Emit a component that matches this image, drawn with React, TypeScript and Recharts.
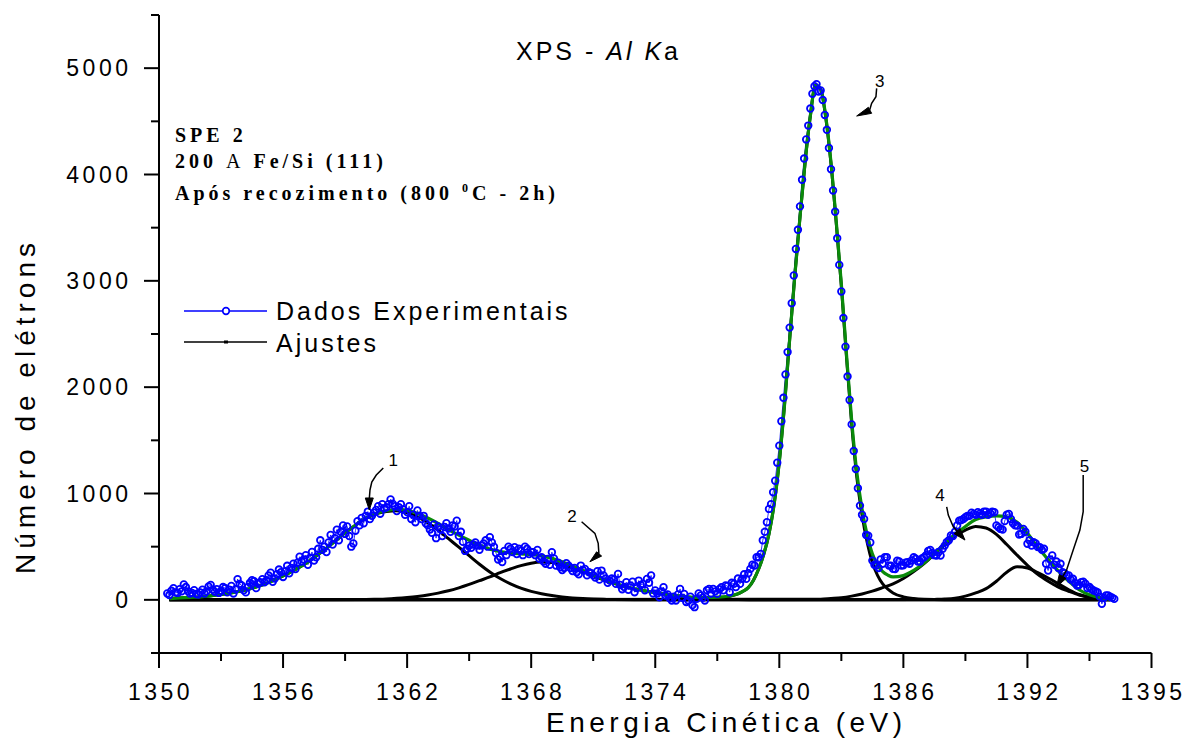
import React from "react";
import { LineChart, Line, XAxis, YAxis, ReferenceDot } from "recharts";

const W = 1185;
const H = 738;
const SANS = '"Liberation Sans", Arial, Helvetica, sans-serif';
const SERIF = '"Liberation Serif", "Times New Roman", Times, serif';

// axis ticks (the last major tick is printed "1395" in the original figure)
const xMajor = [1350, 1356, 1362, 1368, 1374, 1380, 1386, 1392, 1398];
const xMajorLabels = ["1350", "1356", "1362", "1368", "1374", "1380", "1386", "1392", "1395"];
const xMinor = [1353, 1359, 1365, 1371, 1377, 1383, 1389, 1395];
const yMajor = [0, 1000, 2000, 3000, 4000, 5000];
const yMinor = [-500, 500, 1500, 2500, 3500, 4500, 5500];

// experimental counts at 1350.4, 1350.6, ... eV (0.2 eV apart)
const EVEN_START = 1350.4;
const STEP = 0.2;
const expCountsEven = [
  60, 85, 70,
  100, 145, 80, 65, 55,
  70, 60, 125, 95, 100,
  85, 110, 95, 60, 195,
  135, 70, 160, 175, 150,
  195, 185, 255, 200, 285,
  215, 320, 300, 290, 405,
  380, 330, 450, 400, 560,
  500, 540, 520, 660, 640,
  620, 600, 530, 740, 770,
  790, 760, 820, 880, 900,
  870, 945, 880, 870, 850,
  825, 760, 730, 790, 790,
  700, 630, 580, 665, 685,
  670, 700, 745, 640, 460,
  510, 520, 510, 510, 560,
  590, 500, 380, 355, 420,
  480, 495, 480, 420, 480,
  450, 420, 385, 360, 385,
  448, 322, 306, 300, 322,
  270, 260, 322, 291, 260,
  230, 270, 275, 200, 181,
  190, 244, 100, 166, 135,
  72, 181, 150, 197, 229,
  88, 25, 119, 50, -6,
  -6, 103, 56, -6, -50,
  10, 41, -6, 103, 103,
  56, 119, 135, 72, 150,
  200, 197, 197, 291, 322,
  400, 560, 730, 900, 1120,
  1450, 1900, 2330, 2790, 3300,
  3700, 4150, 4460, 4760, 4850,
  4790, 4560, 4250, 3850, 3400,
  2900, 2380, 1880, 1400, 1050,
  800, 610, 540, 330, 300,
  340, 400, 320, 290, 360,
  325, 355, 370, 386, 360,
  400, 460, 440, 417, 416,
  510, 560, 600, 700, 750,
  777, 790, 808, 824, 800,
  830, 815, 824, 683, 660,
  800, 760, 700, 615, 667,
  527, 510, 530, 495, 480,
  276, 417, 360, 339, 250,
  229, 198, 135, 166, 151,
  120, 88, 70, -38, 41,
  30, 9,
];
// experimental counts at 1350.5, 1350.7, ... eV (in between the ones above)
const ODD_START = 1350.5;
const expCountsOdd = [
  45, 110, 65,
  80, 120, 60, 90, 50,
  95, 80, 140, 75, 65,
  120, 70, 130, 100, 150,
  90, 120, 185, 110, 165,
  165, 230, 170, 240, 260,
  270, 250, 340, 350, 360,
  420, 395, 370, 480, 470,
  450, 610, 580, 560, 700,
  690, 500, 650, 700, 720,
  830, 790, 845, 810, 860,
  900, 905, 835, 900, 800,
  880, 800, 840, 760, 720,
  660, 710, 690, 600, 720,
  640, 690, 600, 545, 480,
  490, 540, 470, 530, 500,
  540, 440, 400, 460, 500,
  450, 430, 460, 500, 430,
  448, 470, 400, 340, 330,
  390, 350, 280, 345, 300,
  300, 240, 280, 230, 250,
  210, 190, 230, 160, 200,
  150, 140, 120, 95, 170,
  110, 140, 90, 160, 60,
  60, 80, 40, 15, 30,
  50, 20, -20, 30, -69,
  60, 20, 90, 60, 80,
  100, 90, 130, 160, 120,
  150, 240, 250, 330, 401,
  432, 640, 855, 1012, 1290,
  1680, 2120, 2560, 3050, 3480,
  3950, 4330, 4620, 4830, 4780,
  4700, 4420, 4050, 3650, 3150,
  2650, 2100, 1650, 1231, 886,
  761, 604, 369, 322, 380,
  401, 322, 291, 369, 322,
  350, 340, 400, 360, 390,
  420, 470, 420, 450, 480,
  543, 605, 640, 745, 760,
  790, 820, 800, 810, 830,
  800, 830, 700, 667, 740,
  808, 720, 698, 620, 640,
  560, 541, 496, 470, 340,
  380, 330, 300, 260, 229,
  190, 160, 140, 170, 110,
  100, 80, 30, 20, 41,
  20,
];

// fitted components [energy, counts]
const peak1: [number, number][] = [
  [1350.5, 12], [1351, 18], [1351.5, 23], [1352, 28], [1352.5, 38], [1353, 50], [1353.5, 66],
  [1354, 85], [1354.5, 110], [1355, 140], [1355.5, 180], [1356, 225], [1356.5, 275], [1357, 330],
  [1357.5, 398], [1358, 470], [1358.5, 550], [1359, 630], [1359.5, 702], [1360, 765], [1360.5, 808],
  [1361, 830], [1361.5, 838], [1362, 820], [1362.5, 780], [1363, 725], [1363.5, 655], [1364, 575],
  [1364.5, 495], [1365, 415], [1365.5, 335], [1366, 262], [1366.5, 200], [1367, 150], [1367.5, 110],
  [1368, 80], [1368.5, 58], [1369, 40], [1369.5, 27], [1370, 18], [1370.5, 12], [1371, 8],
  [1371.5, 5], [1372, 3], [1373, 1], [1374, 0], [1396, 0],
];
const peak2: [number, number][] = [
  [1350.5, 0], [1360, 3], [1360.5, 5], [1361, 8], [1361.5, 14], [1362, 22], [1362.5, 32], [1363, 45],
  [1363.5, 63], [1364, 85], [1364.5, 113], [1365, 145], [1365.5, 180], [1366, 215], [1366.5, 255],
  [1367, 290], [1367.5, 322], [1368, 345], [1368.5, 355], [1369, 350], [1369.5, 330], [1370, 300],
  [1370.5, 265], [1371, 225], [1371.5, 188], [1372, 155], [1372.5, 127], [1373, 103], [1373.5, 84],
  [1374, 68], [1374.5, 52], [1375, 38], [1375.5, 27], [1376, 18], [1376.5, 12], [1377, 7],
  [1377.5, 4], [1378, 2], [1379, 0], [1396, 0],
];
const peak3: [number, number][] = [
  [1350.5, 0], [1375, 2], [1375.5, 3], [1376, 5], [1376.5, 10], [1377, 18], [1377.5, 30], [1378, 55],
  [1378.25, 80], [1378.5, 115], [1378.75, 185], [1379, 290], [1379.25, 430], [1379.5, 620],
  [1379.75, 900], [1380, 1300], [1380.25, 1830], [1380.5, 2450], [1380.75, 3050], [1381, 3600],
  [1381.25, 4120], [1381.5, 4550], [1381.75, 4840], [1382, 4800], [1382.25, 4530], [1382.5, 4100],
  [1382.75, 3550], [1383, 2950], [1383.25, 2280], [1383.5, 1650], [1383.75, 1150], [1384, 800],
  [1384.25, 540], [1384.5, 350], [1384.75, 230], [1385, 150], [1385.25, 100], [1385.5, 65],
  [1386, 28], [1386.5, 12], [1387, 5], [1388, 1], [1396, 0],
];
const peak4: [number, number][] = [
  [1350.5, 0], [1382, 5], [1382.5, 12], [1383, 20], [1383.5, 35], [1384, 55], [1384.5, 82],
  [1385, 115], [1385.5, 150], [1386, 200], [1386.5, 265], [1387, 340], [1387.5, 430], [1388, 520],
  [1388.5, 600], [1389, 655], [1389.5, 690], [1390, 675], [1390.5, 615], [1391, 520], [1391.5, 420],
  [1392, 325], [1392.5, 240], [1393, 175], [1393.5, 120], [1394, 80], [1394.5, 45], [1395, 22],
  [1395.5, 10], [1396, 4],
];
const peak5: [number, number][] = [
  [1350.5, 0], [1387, 2], [1387.5, 4], [1388, 7], [1388.5, 15], [1389, 35], [1389.5, 65],
  [1390, 105], [1390.5, 175], [1391, 260], [1391.5, 310], [1392, 300], [1392.5, 255], [1393, 205],
  [1393.5, 150], [1394, 95], [1394.5, 50], [1395, 25], [1395.5, 10], [1396, 3],
];
// total fit (green)
const fitTotal: [number, number][] = [
  [1350.5, 12], [1351, 18], [1351.5, 23], [1352, 28], [1352.5, 38], [1353, 50], [1353.5, 66],
  [1354, 85], [1354.5, 110], [1355, 140], [1355.5, 180], [1356, 225], [1356.5, 275], [1357, 330],
  [1357.5, 398], [1358, 470], [1358.5, 550], [1359, 630], [1359.5, 702], [1360, 768], [1360.5, 813],
  [1361, 838], [1361.5, 852], [1362, 842], [1362.5, 812], [1363, 770], [1363.5, 718], [1364, 660],
  [1364.5, 608], [1365, 560], [1365.5, 515], [1366, 477], [1366.5, 455], [1367, 440], [1367.5, 432],
  [1368, 425], [1368.5, 413], [1369, 390], [1369.5, 357], [1370, 318], [1370.5, 277], [1371, 233],
  [1371.5, 193], [1372, 158], [1372.5, 129], [1373, 104], [1373.5, 84], [1374, 68], [1374.5, 52],
  [1375, 40], [1375.5, 30], [1376, 23], [1376.5, 22], [1377, 25], [1377.5, 34], [1378, 57],
  [1378.25, 81], [1378.5, 115], [1378.75, 185], [1379, 290], [1379.25, 430], [1379.5, 620],
  [1379.75, 900], [1380, 1300], [1380.25, 1830], [1380.5, 2450], [1380.75, 3050], [1381, 3600],
  [1381.25, 4120], [1381.5, 4550], [1381.75, 4840], [1382, 4805], [1382.25, 4538], [1382.5, 4112],
  [1382.75, 3566], [1383, 2970], [1383.25, 2307], [1383.5, 1685], [1383.75, 1195], [1384, 855],
  [1384.25, 608], [1384.5, 432], [1384.75, 328], [1385, 265], [1385.25, 232], [1385.5, 215],
  [1386, 228], [1386.5, 277], [1387, 347], [1387.5, 436], [1388, 528], [1388.5, 615], [1389, 690],
  [1389.5, 755], [1390, 780], [1390.5, 790], [1391, 780], [1391.5, 730], [1392, 625], [1392.5, 495],
  [1393, 380], [1393.5, 270], [1394, 175], [1394.5, 95], [1395, 47], [1395.5, 20], [1396, 7],
];

// peak labels: where each arrow points [energy, counts]
const peakNames = ["1", "2", "3", "4", "5"];
const arrowTips: [number, number][] = [
  [1360.17, 845], [1370.84, 358], [1383.74, 4550], [1388.98, 562], [1393.41, 123],
];

const toRows = (pts: [number, number][]) => pts.map(([x, y]) => ({ x, y }));
const expData = [
  ...expCountsEven.map((y, i) => ({ x: +(EVEN_START + i * STEP).toFixed(1), y })),
  ...expCountsOdd.map((y, i) => ({ x: +(ODD_START + i * STEP).toFixed(1), y })),
].sort((a, b) => a.x - b.x);

const xTicks = [...xMajor, ...xMinor].sort((a, b) => a - b);
const yTicks = [...yMajor, ...yMinor].sort((a, b) => a - b);

const tickFont = { fontFamily: SANS, fontSize: 23, letterSpacing: 3.5, fill: "#000" };

function BottomTick({ x, y, payload }: any) {
  const i = xMajor.indexOf(payload.value);
  return (
    <g>
      <line x1={x} x2={x} y1={y} y2={y + (i >= 0 ? 15 : 8)} stroke="#000" strokeWidth={2} />
      {i >= 0 && (
        <text x={x + 1.5} y={y + 47} textAnchor="middle" style={tickFont}>
          {xMajorLabels[i]}
        </text>
      )}
    </g>
  );
}

function TopTick({ x, y, payload }: any) {
  const major = xMajor.includes(payload.value);
  return <line x1={x} x2={x} y1={y} y2={y + (major ? 13 : 7)} stroke="#000" strokeWidth={2} />;
}

function LeftTick({ x, y, payload }: any) {
  const major = yMajor.includes(payload.value);
  return (
    <g>
      <line x1={x} x2={x - (major ? 15 : 8)} y1={y} y2={y} stroke="#000" strokeWidth={2} />
      {major && (
        <text x={x - 27.5} y={y + 8} textAnchor="end" style={tickFont}>
          {payload.value}
        </text>
      )}
    </g>
  );
}

function RightTick({ x, y, payload }: any) {
  const major = yMajor.includes(payload.value);
  return <line x1={x} x2={x - (major ? 16 : 8)} y1={y} y2={y} stroke="#000" strokeWidth={2} />;
}

// arrow drawings, pixel offsets from the arrow tip
const arrowShapes = [
  { line: [[14, -42], [7, -35], [2.5, -28], [0.7, -20], [0, -11]], head: [[-4, -12], [4, -12]], label: [24, -44] },
  { line: [[-8.3, -40], [5, -28.4], [8.3, -18.4], [9, -8]], head: [[6.7, -10], [11.7, -5.7]], label: [-18, -40] },
  { line: [[20, -27.7], [19.3, -19.3], [15, -12.7], [13, -6]], head: [[11.7, -8.7], [15, -2.7]], label: [23, -29] },
  { line: [[-18.3, -33.3], [-16.7, -25], [-11.7, -13.3], [-8, -9]], head: [[-10.9, -6.4], [-4.9, -11.6]], label: [-25, -39] },
  { line: [[26.6, -111.7], [26.6, -75], [23.3, -56.7], [16.6, -36.7], [10, -16.7], [6, -10]], head: [[9.5, -8.3], [2.7, -12.3]], label: [28, -115] },
];

const makeArrow = (k: number) => (props: any) => {
  const { cx, cy } = props;
  const s = arrowShapes[k];
  const d = s.line.map((p, i) => `${i ? "L" : "M"}${cx + p[0]},${cy + p[1]}`).join(" ");
  const h = `M${cx},${cy} L${cx + s.head[0][0]},${cy + s.head[0][1]} L${cx + s.head[1][0]},${cy + s.head[1][1]} Z`;
  return (
    <g>
      <path d={d} fill="none" stroke="#000" strokeWidth={1.5} />
      <path d={h} fill="#000" stroke="#000" strokeWidth={1} />
      <text x={cx + s.label[0]} y={cy + s.label[1]} textAnchor="middle" fontFamily={SANS} fontSize={17} fill="#000">
        {peakNames[k]}
      </text>
    </g>
  );
};

const components = [peak1, peak2, peak3, peak4, peak5];

export default function App() {
  return (
    <div style={{ position: "relative", width: W, height: H, background: "#fff" }}>
      <style>{`body{margin:0;overflow:hidden;background:#fff}`}</style>
      <LineChart width={W} height={H} margin={{ top: 15, right: 33.5, bottom: 0, left: 0 }}>
        <XAxis
          xAxisId="b"
          dataKey="x"
          type="number"
          domain={[1350, 1398]}
          allowDataOverflow
          ticks={xTicks}
          interval={0}
          height={85}
          tickSize={0}
          tickMargin={0}
          tickLine={false}
          axisLine={{ stroke: "#000", strokeWidth: 2 }}
          tick={<BottomTick />}
        />
        <XAxis
          xAxisId="t"
          orientation="top"
          dataKey="x"
          type="number"
          domain={[1350, 1398]}
          allowDataOverflow
          ticks={xTicks}
          interval={0}
          height={0}
          mirror
          tickSize={0}
          tickMargin={0}
          tickLine={false}
          axisLine={{ stroke: "#000", strokeWidth: 2 }}
          tick={<TopTick />}
        />
        <YAxis
          yAxisId="l"
          type="number"
          domain={[-500, 5500]}
          allowDataOverflow
          ticks={yTicks}
          interval={0}
          width={159}
          tickSize={0}
          tickMargin={0}
          tickLine={false}
          axisLine={{ stroke: "#000", strokeWidth: 2 }}
          tick={<LeftTick />}
        />
        <YAxis
          yAxisId="r"
          orientation="right"
          type="number"
          domain={[-500, 5500]}
          allowDataOverflow
          ticks={yTicks}
          interval={0}
          width={0}
          mirror
          tickSize={0}
          tickMargin={0}
          tickLine={false}
          axisLine={{ stroke: "#000", strokeWidth: 2 }}
          tick={<RightTick />}
        />

        <Line
          xAxisId="b"
          yAxisId="l"
          data={expData}
          dataKey="y"
          type="linear"
          stroke="#0000ff"
          strokeWidth={0.8}
          dot={{ r: 3.3, stroke: "#0000ff", strokeWidth: 1.8, fill: "none" }}
          isAnimationActive={false}
        />
        {components.map((c, i) => (
          <Line
            key={i}
            xAxisId="b"
            yAxisId="l"
            data={toRows(c)}
            dataKey="y"
            type="monotone"
            stroke="#000"
            strokeWidth={3}
            dot={false}
            isAnimationActive={false}
          />
        ))}
        <Line
          xAxisId="b"
          yAxisId="l"
          data={toRows(fitTotal)}
          dataKey="y"
          type="monotone"
          stroke="#0a8a0a"
          strokeWidth={3.2}
          dot={false}
          isAnimationActive={false}
        />
        {arrowTips.map(([x, y], i) => (
          <ReferenceDot key={i} xAxisId="b" yAxisId="l" x={x} y={y} r={0} shape={makeArrow(i)} />
        ))}
      </LineChart>

      <svg width={W} height={H} style={{ position: "absolute", left: 0, top: 0, pointerEvents: "none" }}>
        <text x={516} y={60} fontFamily={SANS} fontSize={25} letterSpacing={3} fill="#000">
          XPS - <tspan fontStyle="italic">Al K</tspan>a
        </text>

        <g fontFamily={SERIF} fontWeight="bold" fontSize={20} letterSpacing={4} fill="#000" style={{ whiteSpace: "pre" }}>
          <text x={175} y={142}>SPE 2</text>
          <text x={175} y={168}>
            200 <tspan fontWeight="normal">A</tspan> Fe/Si (111)
          </text>
          <text x={175} y={200}>
            Após recozimento (800 <tspan dy={-8} fontSize={12}>0</tspan>
            <tspan dy={8}>C - 2h)</tspan>
          </text>
        </g>

        <line x1={184} x2={267} y1={311} y2={311} stroke="#0000ff" strokeWidth={1.5} />
        <circle cx={226} cy={311} r={3.3} fill="#fff" stroke="#0000ff" strokeWidth={1.7} />
        <text x={276} y={320} fontFamily={SANS} fontSize={25} letterSpacing={3} fill="#000">
          Dados Experimentais
        </text>
        <line x1={184} x2={267} y1={342} y2={342} stroke="#000" strokeWidth={1.5} />
        <rect x={224} y={340.5} width={4} height={3} fill="#000" />
        <text x={276} y={352} fontFamily={SANS} fontSize={25} letterSpacing={3} fill="#000">
          Ajustes
        </text>

        <text x={546} y={732} fontFamily={SANS} fontSize={28} letterSpacing={4.5} fill="#000">
          Energia Cinética (eV)
        </text>
        <text
          transform="translate(35, 406) rotate(-90)"
          textAnchor="middle"
          fontFamily={SANS}
          fontSize={28}
          letterSpacing={5}
          fill="#000"
        >
          Número de elétrons
        </text>
      </svg>
    </div>
  );
}
